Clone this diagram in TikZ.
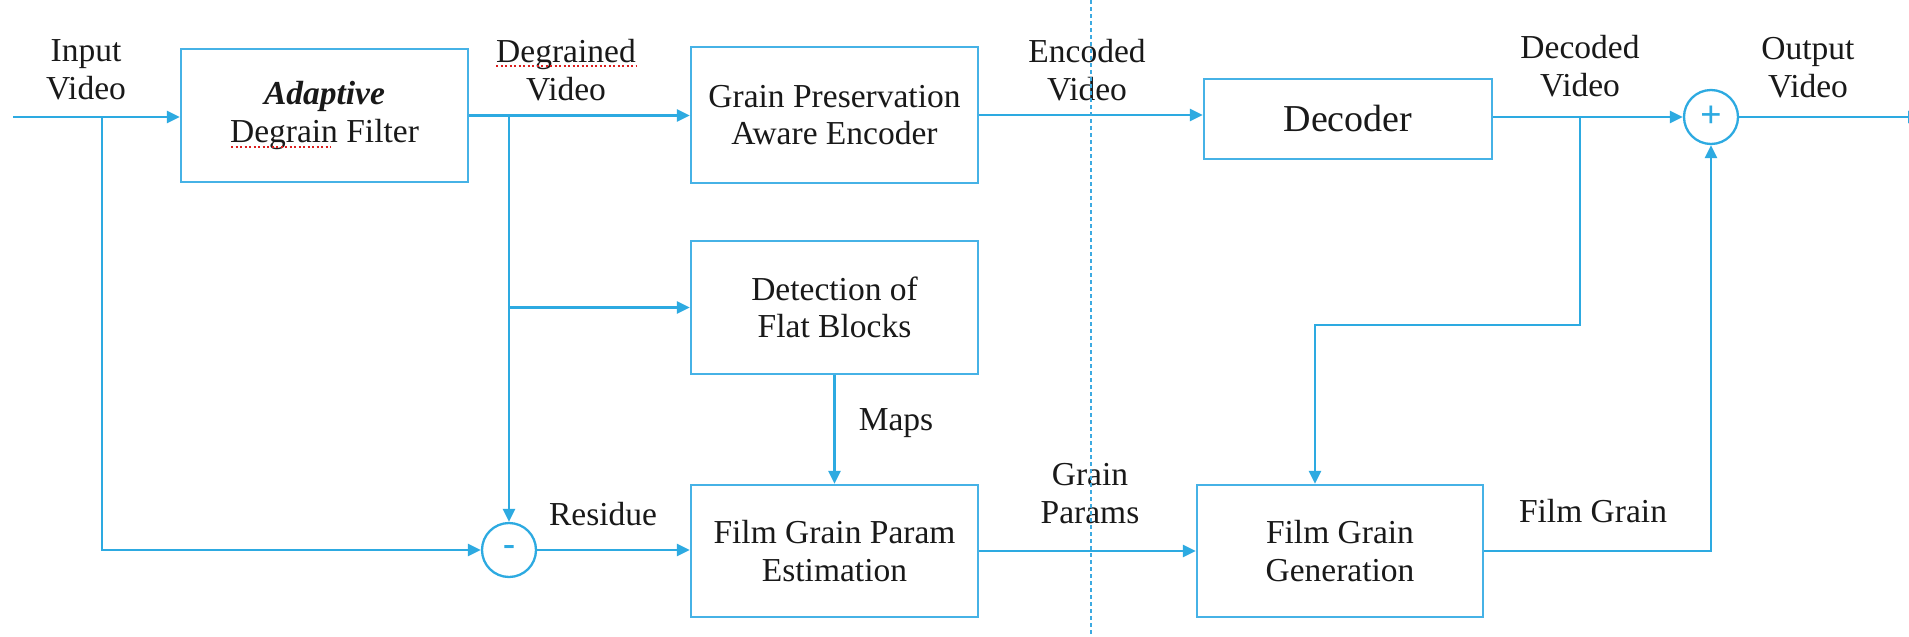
\documentclass[tikz,border=0pt]{standalone}
\usepackage{fontspec}
\setmainfont{Liberation Serif}
\usetikzlibrary{arrows.meta,calc}
\definecolor{lblue}{RGB}{45,170,225}
\definecolor{boxblue}{RGB}{70,178,230}
\definecolor{dotblue}{RGB}{60,170,225}
\definecolor{txt}{RGB}{25,25,25}
\definecolor{spell}{RGB}{220,30,30}
\begin{document}
\begin{tikzpicture}[x=1pt,y=-1pt,
  font=\fontsize{33.5}{37.5}\selectfont,
  blk/.style={draw=boxblue, line width=2.3pt, minimum width=287pt, minimum height=133pt, inner sep=0pt, align=center, text=txt},
  conn/.style={draw=lblue, line width=2.5pt, -{Triangle[length=13pt,width=12pt]}},
  sumc/.style={circle, draw=lblue, line width=2.3pt, minimum size=54pt, inner sep=0pt, text=lblue},
  lbl/.style={align=center, anchor=base, text=txt},
  spellmark/.style={draw=spell, line width=2pt, dash pattern=on 2pt off 2.5pt}]
\useasboundingbox (0,0) rectangle (1909,637);
\clip (0,0) rectangle (1909,637);
\fill[white] (0,0) rectangle (1909,637);

% blocks
\node[blk] (filt) at (324.5,115.5) {{\bfseries\itshape Adaptive}\\Degrain Filter};
\node[blk, minimum height=136pt] (enc) at (834.5,115) {Grain Preservation\\Aware Encoder};
\node[blk, minimum width=288pt, minimum height=80pt, font=\fontsize{38}{42}\selectfont] (dec) at (1348,119) {Decoder};
\node[blk] (det) at (834.5,307.5) {Detection of\\Flat Blocks};
\node[blk, minimum height=132pt] (est) at (834.5,551) {Film Grain Param\\Estimation};
\node[blk, minimum width=286pt, minimum height=132pt] (gen) at (1340,551) {Film Grain\\Generation};
\node[sumc, font=\fontsize{36}{36}\selectfont\bfseries] (minus) at (509,550) {-};
\node[sumc, font=\fontsize{38}{38}\selectfont\bfseries] (plus) at (1711,117) {+};

% junctions
\coordinate (src) at (13,117);
\coordinate (j1) at (102,117);
\coordinate (j2) at (509,115.5);
\coordinate (j3) at (1580,117);
\coordinate (k) at (1315,325);
\coordinate (out) at (1921,117);

% connectors
\draw[conn] (src) -- (filt.west |- src);
\draw[conn] (j1) |- (minus.west);
\draw[conn] (filt.east) -- (enc.west |- filt.east);
\draw[conn] (j2) -- (minus.north);
\draw[conn] (j2 |- det.west) -- (det.west);
\draw[conn] (minus.east) -- (est.west |- minus.east);
\draw[conn] (det.south) -- (est.north);
\draw[conn] (enc.east) -- (dec.west |- enc.east);
\draw[conn] (dec.east |- plus.west) -- (plus.west);
\draw[conn] (plus.east) -- (out);
\draw[conn] (j3) |- (k) -- (k |- gen.north);
\draw[conn] (est.east) -- (gen.west);
\draw[conn] (gen.east) -| (plus.south);

% labels (base = baseline of last line)
\node[lbl] (lin) at (86,99) {Input\\Video};
\node[lbl] (ldeg) at (566,100) {Degrained\\Video};
\node[lbl] (lenc) at (1087,100) {Encoded\\Video};
\node[lbl] (ldec) at (1580,96) {Decoded\\Video};
\node[lbl] (lout) at (1808,97) {Output\\Video};
\node[lbl] (lres) at (603,525) {Residue};
\node[lbl] (lgp) at (1090,523) {Grain\\Params};
\node[lbl] (lmaps) at (896,430) {Maps};
\node[lbl] (lfg) at (1593,522) {Film Grain};

% spell-check marks
\draw[spellmark] (496,66) -- (636,66);
\draw[spellmark] (231,147) -- (331,147);

% encoder / decoder separator
\coordinate (sepT) at (1091,0);
\coordinate (sepB) at (1091,637);
\draw[dotblue, line width=2pt, dash pattern=on 3.5pt off 3.5pt] (sepT) -- (sepB);
\end{tikzpicture}
\end{document}
